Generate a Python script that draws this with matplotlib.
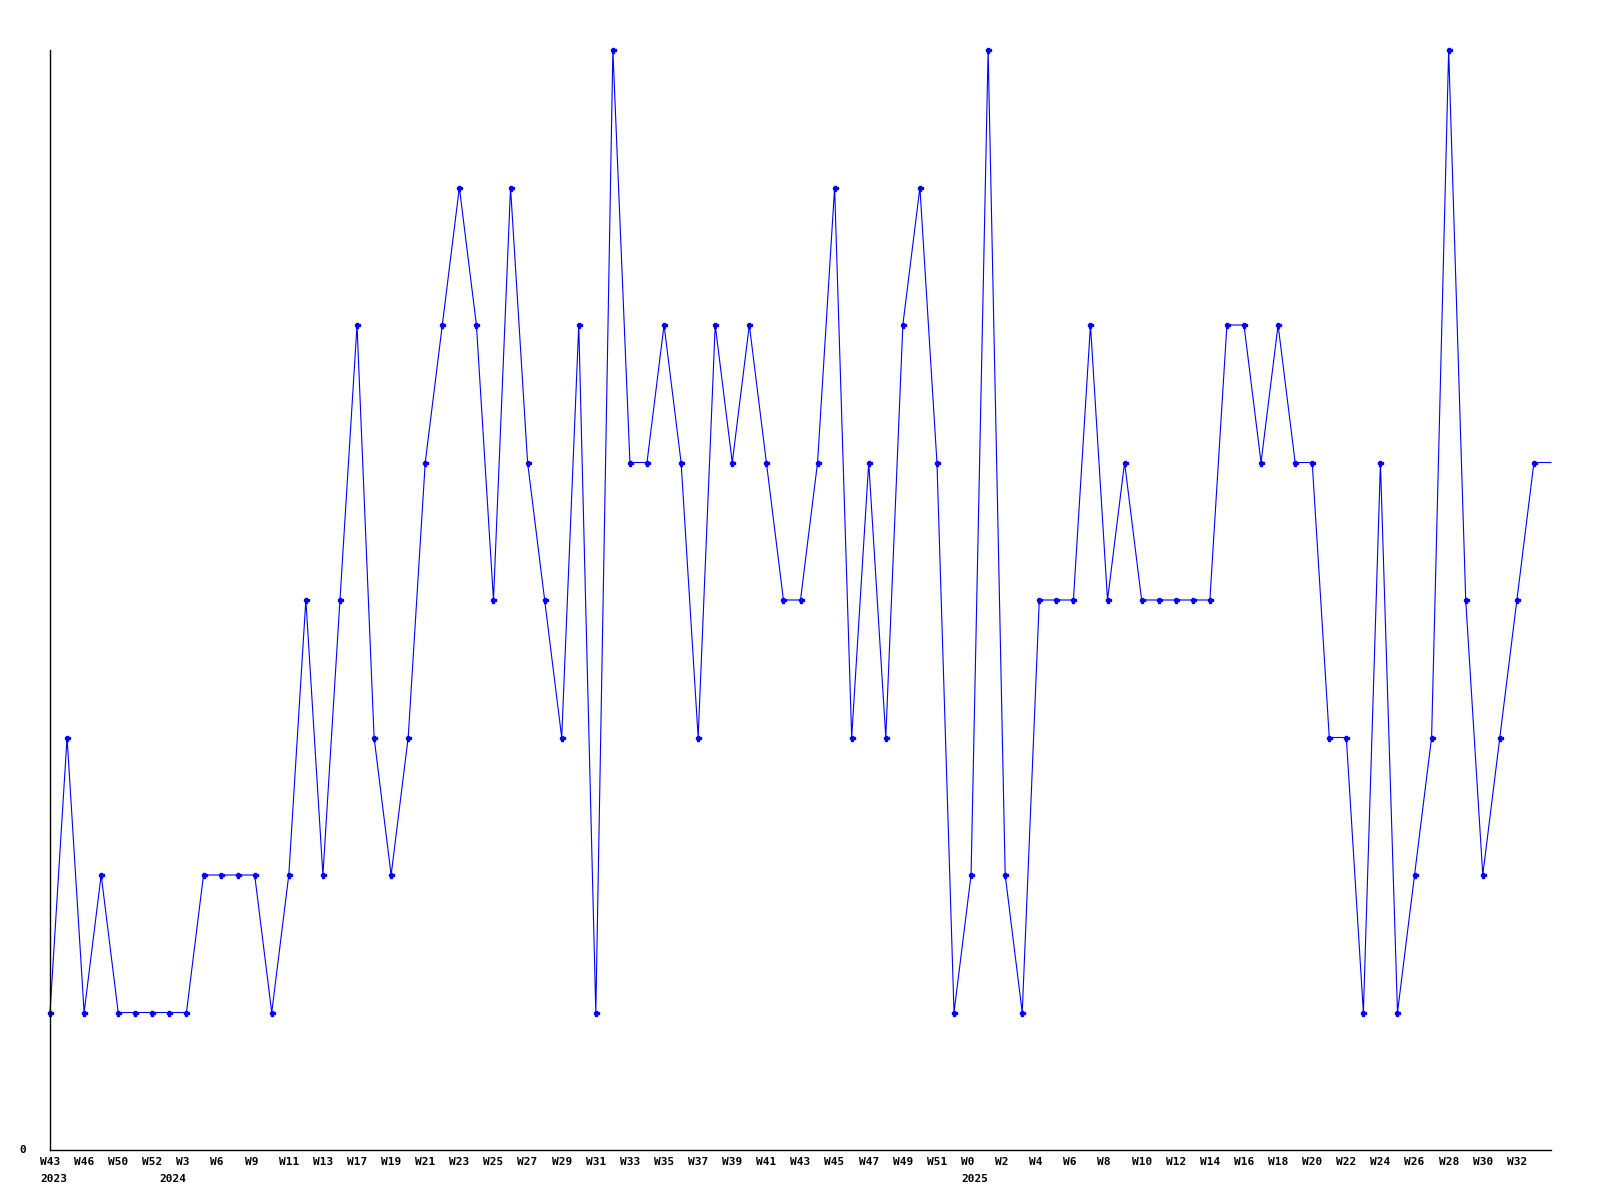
import matplotlib
matplotlib.use("Agg")
import matplotlib.pyplot as plt

# weekly values (89 points; the last one only extends the line to the edge)
values = [1, 3, 1, 2, 1, 1, 1, 1, 1, 2, 2, 2, 2, 1, 2, 4, 2, 4, 6, 3,
          2, 3, 5, 6, 7, 6, 4, 7, 5, 4, 3, 6, 1, 8, 5, 5, 6, 5, 3, 6,
          5, 6, 5, 4, 4, 5, 7, 3, 5, 3, 6, 7, 5, 1, 2, 8, 2, 1, 4, 4,
          4, 6, 4, 5, 4, 4, 4, 4, 4, 6, 6, 5, 6, 5, 5, 3, 3, 1, 5, 1,
          2, 3, 8, 4, 2, 3, 4, 5, 5]

# labels shown on every other point
tick_labels = ["W43", "W46", "W50", "W52", "W3", "W6", "W9", "W11",
               "W13", "W17", "W19", "W21", "W23", "W25", "W27", "W29", "W31",
               "W33", "W35", "W37", "W39", "W41", "W43", "W45", "W47", "W49",
               "W51", "W0", "W2", "W4", "W6", "W8", "W10", "W12", "W14",
               "W16", "W18", "W20", "W22", "W24", "W26", "W28", "W30", "W32"]

# year labels: (tick label index, year)
year_ticks = [0, 4, 27]
year_labels = ["2023", "2024", "2025"]

y_ticks = [0]
y_tick_labels = ["0"]

FONT = dict(fontfamily="DejaVu Sans Mono", fontweight="bold", fontsize=8)

fig = plt.figure(figsize=(16, 12), dpi=100)
ax = fig.add_axes([50 / 1600, 1 - 1150 / 1200, 1501 / 1600, 1100 / 1200])

x = list(range(len(values)))
ax.plot(x, values, color="#0000ff", lw=0.8, marker="P", markersize=3.6,
        markevery=list(range(len(values) - 1)), clip_on=False)

ax.set_xlim(0, len(values) - 1)
ax.set_ylim(0, 8)
tick_pos = list(range(0, 2 * len(tick_labels), 2))
ax.set_xticks(tick_pos)
ax.set_xticklabels([t.ljust(3) for t in tick_labels], **FONT)
ax.set_yticks(y_ticks)
ax.set_yticklabels(y_tick_labels, **FONT)
ax.tick_params(axis="x", length=0, pad=5)
ax.tick_params(axis="y", length=0, pad=17)
for lab in ax.get_yticklabels():
    lab.set_verticalalignment("center")

# year labels under the first week of each year
for ti, yr in zip(year_ticks, year_labels):
    xp = tick_pos[ti]
    if yr == "2024":
        off, ha = 0, "right"
    else:
        off, ha = -10, "left"
    ax.annotate(yr, xy=(xp, 0), xycoords=("data", "axes fraction"),
                xytext=(off, -28.5), textcoords="offset pixels",
                ha=ha, va="center", annotation_clip=False, **FONT)

for s in ["top", "right"]:
    ax.spines[s].set_visible(False)
for s in ["left", "bottom"]:
    ax.spines[s].set_linewidth(1.0)
    ax.spines[s].set_color("black")

fig.savefig("out.png", dpi=100, facecolor="white")
